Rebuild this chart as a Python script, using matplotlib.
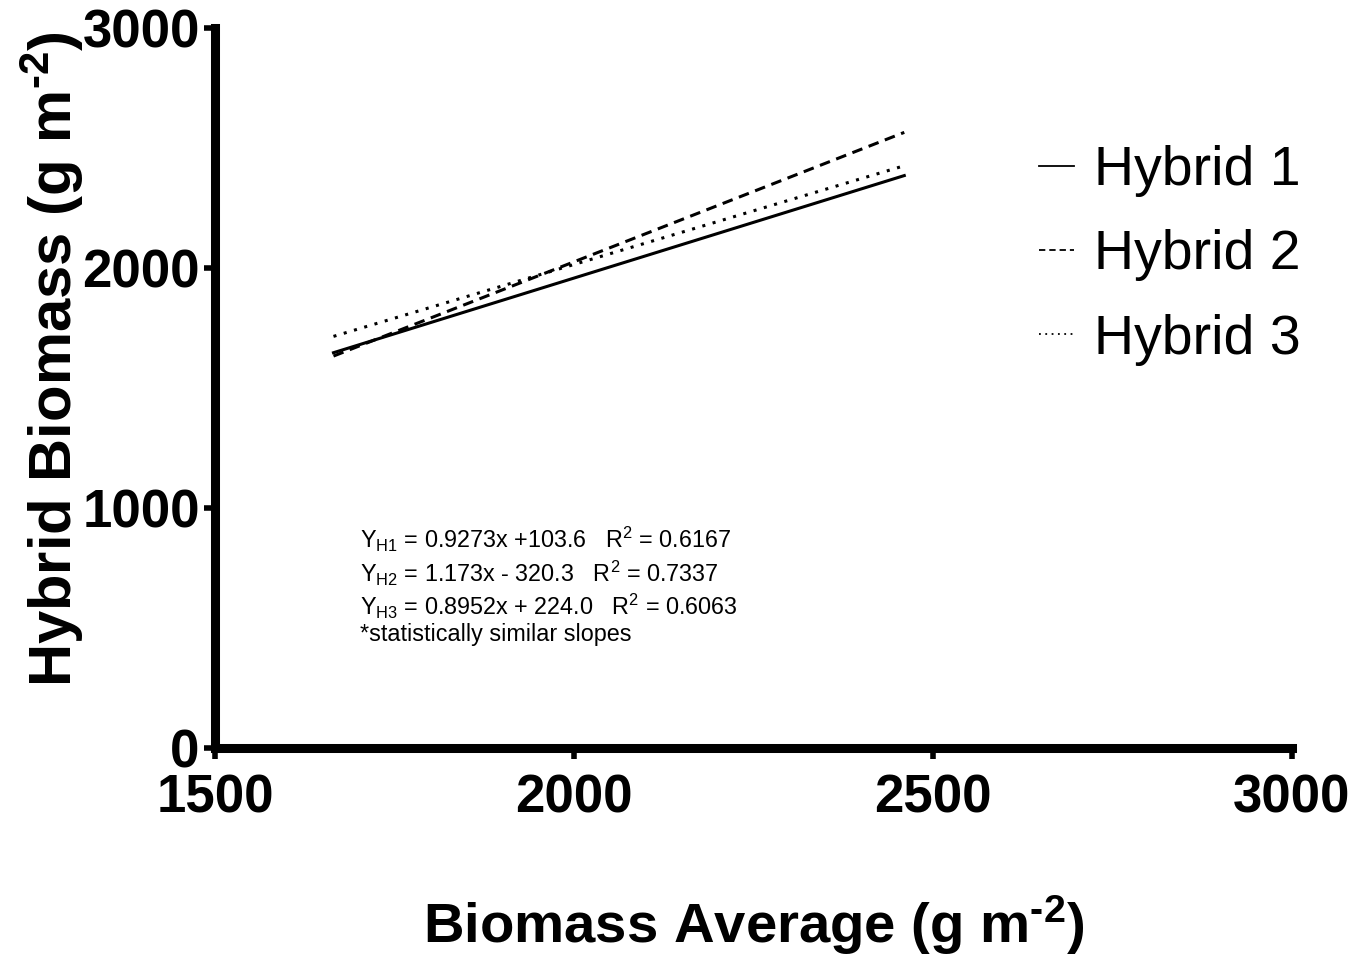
import matplotlib
matplotlib.use("Agg")
import matplotlib.pyplot as plt

plt.rcParams['font.family'] = ['Liberation Sans', 'DejaVu Sans']
plt.rcParams['mathtext.fontset'] = 'custom'
plt.rcParams['mathtext.rm'] = 'Liberation Sans'
plt.rcParams['mathtext.it'] = 'Liberation Sans:italic'
plt.rcParams['mathtext.bf'] = 'Liberation Sans:bold'

# Data (regression line endpoints)
x_range = [1665, 2460]
hybrid1 = [1647, 2385]
hybrid2 = [1633, 2565]
hybrid3 = [1715, 2426]
series_names = ['Hybrid 1', 'Hybrid 2', 'Hybrid 3']
x_ticks = [1500, 2000, 2500, 3000]
y_ticks = [0, 1000, 2000, 3000]
equations = [
    r'Y$_{\mathrm{H1}}$ = 0.9273x +103.6   R$^{2}$ = 0.6167',
    r'Y$_{\mathrm{H2}}$ = 1.173x - 320.3   R$^{2}$ = 0.7337',
    r'Y$_{\mathrm{H3}}$ = 0.8952x + 224.0   R$^{2}$ = 0.6063',
    '*statistically similar slopes',
]

fig = plt.figure(figsize=(13.54, 9.58), dpi=100)
ax = fig.add_axes([0.1588, 0.2192, 0.7954, 0.7516])

ax.plot(x_range, hybrid1, color='black', lw=2.2, ls='-', label=series_names[0])
ax.plot(x_range, hybrid2, color='black', lw=2.2, ls=(0, (3.5, 2.2)), label=series_names[1])
ax.plot(x_range, hybrid3, color='black', lw=2.2, ls=(0, (1, 2.5)), label=series_names[2])

ax.set_xlim(1500, 3000)
ax.set_ylim(0, 3000)
ax.set_xticks(x_ticks)
ax.set_yticks(y_ticks)
ax.set_xticklabels([str(v) for v in x_ticks], fontsize=38, fontweight='bold')
ax.set_yticklabels([str(v) for v in y_ticks], fontsize=38, fontweight='bold')

for s in ['top', 'right']:
    ax.spines[s].set_visible(False)
for s in ['left', 'bottom']:
    ax.spines[s].set_linewidth(6.5)
ax.tick_params(axis='both', direction='out', length=8, width=4)
ax.tick_params(axis='x', pad=10)
ax.tick_params(axis='y', pad=3)

ax.set_xlabel('Biomass Average (g m$^{\\mathbf{\u20102}}$)', fontsize=40.5, fontweight='bold',
              va='center')
ax.xaxis.set_label_coords(0.5, -0.246)
ax.set_ylabel('Hybrid Biomass (g m$^{\\mathbf{\u20102}}$)', fontsize=43, fontweight='bold')
ax.yaxis.set_label_coords(-0.12, 0.54)

leg = ax.legend(loc='upper left', bbox_to_anchor=(0.744, 0.868), frameon=False,
                fontsize=40, handlelength=0.63, handletextpad=0.36, labelspacing=0.58,
                borderaxespad=0)
for h in leg.get_lines():
    h.set_linewidth(1.3)

ys = [0.289, 0.243, 0.197, 0.158]
for t, yy in zip(equations, ys):
    ax.text(0.135, yy, t, transform=ax.transAxes, fontsize=16.8,
            ha='left', va='center')

fig.savefig('out.png', dpi=100)
